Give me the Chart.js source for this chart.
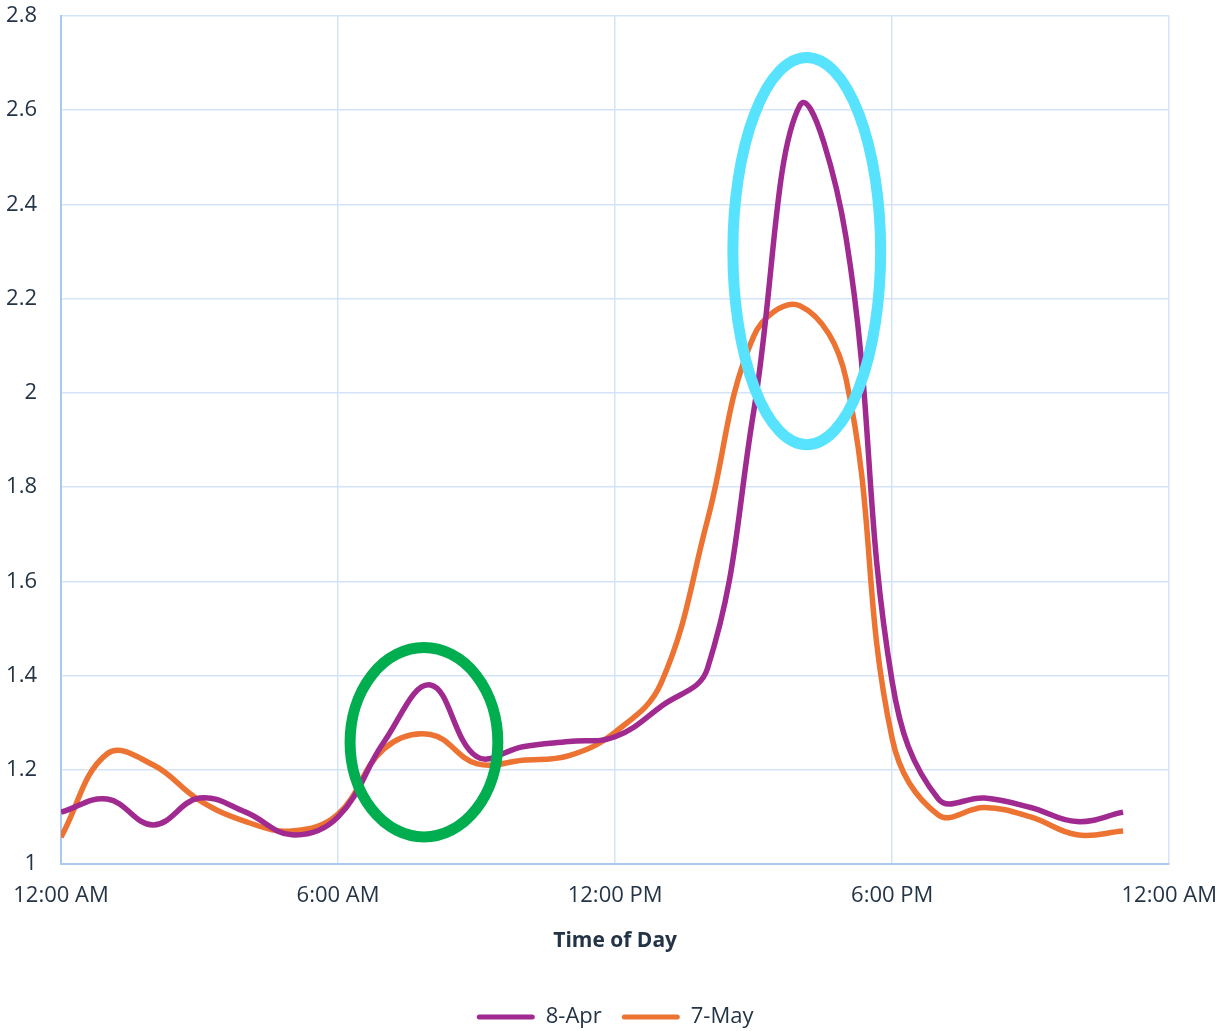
<!DOCTYPE html>
<html>
<head>
<meta charset="utf-8">
<script src="https://cdn.jsdelivr.net/npm/chart.js@4/dist/chart.umd.min.js"></script>
<style>
  html, body { margin: 0; padding: 0; background: #ffffff; }
  #wrap { width: 1217px; height: 1031px; position: relative; }
</style>
</head>
<body>
<div id="wrap"><canvas id="c" width="1217" height="1031"></canvas></div>
<script>
// Hour of day for each reading (0 = midnight)
const hours = [0, 1, 2, 3, 4, 5, 6, 7, 8, 9, 10, 11, 12, 13, 14, 15, 16, 17, 18, 19, 20, 21, 22, 23];

// Readings per hour for each day
const apr8 = [1.11, 1.138, 1.083, 1.14, 1.11, 1.062, 1.10, 1.26, 1.38, 1.228, 1.249, 1.26,
              1.27, 1.335, 1.415, 1.96, 2.61, 2.33, 1.387, 1.138, 1.14, 1.12, 1.09, 1.11];
const may7 = [1.057, 1.234, 1.21, 1.135, 1.09, 1.07, 1.106, 1.245, 1.275, 1.213, 1.22, 1.23,
              1.28, 1.385, 1.73, 2.12, 2.185, 2.03, 1.266, 1.104, 1.12, 1.10, 1.062, 1.07];

const seriesNames = ['8-Apr', '7-May'];

// Axis tick labels
const xTickLabels = ['12:00 AM', '6:00 AM', '12:00 PM', '6:00 PM', '12:00 AM'];
const xTickHours = [0, 6, 12, 18, 24];
const yTicks = [1, 1.2, 1.4, 1.6, 1.8, 2, 2.2, 2.4, 2.6, 2.8];

// Highlight rings: centre hour, centre value, half-width (hours), half-height (value)
const ringHours = [7.86, 16.15];
const ringValues = [1.2585, 2.301];
const ringHalfWidths = [1.6, 1.6];
const ringHalfHeights = [0.201, 0.411];
const ringColors = ['#00ad4f', '#57e2fd'];

const textColor = '#243447';
const fontFamily = '"Open Sans", "DejaVu Sans", sans-serif';

const ringPlugin = {
  id: 'rings',
  afterDatasetsDraw(chart) {
    const { ctx, scales: { x, y } } = chart;
    ctx.save();
    for (let i = 0; i < ringHours.length; i++) {
      const cx = x.getPixelForValue(ringHours[i]);
      const cy = y.getPixelForValue(ringValues[i]);
      const rx = Math.abs(x.getPixelForValue(ringHours[i] + ringHalfWidths[i]) - cx);
      const ry = Math.abs(y.getPixelForValue(ringValues[i] + ringHalfHeights[i]) - cy);
      ctx.beginPath();
      ctx.ellipse(cx, cy, rx, ry, 0, 0, Math.PI * 2);
      ctx.lineWidth = 11;
      ctx.strokeStyle = ringColors[i];
      ctx.stroke();
    }
    ctx.restore();
  }
};

const toPoints = (vals) => hours.map((h, i) => ({ x: h, y: vals[i] }));

new Chart(document.getElementById('c'), {
  type: 'line',
  data: {
    datasets: [
      {
        label: seriesNames[0],
        data: toPoints(apr8),
        borderColor: '#a02a90',
        backgroundColor: '#a02a90',
        borderWidth: 5.5,
        pointRadius: 0,
        tension: 0.4,
        fill: false
      },
      {
        label: seriesNames[1],
        data: toPoints(may7),
        borderColor: '#ec7331',
        backgroundColor: '#ec7331',
        borderWidth: 5.5,
        pointRadius: 0,
        tension: 0.4,
        fill: false
      }
    ]
  },
  options: {
    responsive: false,
    animation: false,
    layout: { padding: { top: 16, right: 47, left: 0, bottom: -7 } },
    plugins: {
      tooltip: { enabled: false },
      legend: {
        position: 'bottom',
        fullSize: false,
        labels: {
          color: textColor,
          font: { family: fontFamily, size: 22 },
          boxWidth: 58,
          boxHeight: 5,
          padding: 20,
          useBorderRadius: true,
          borderRadius: 2.5,
          generateLabels(chart) {
            return chart.data.datasets.map((ds, i) => ({
              text: ds.label,
              fillStyle: ds.borderColor,
              strokeStyle: ds.borderColor,
              lineWidth: 0,
              datasetIndex: i,
              fontColor: textColor,
              borderRadius: 2.5
            }));
          }
        }
      }
    },
    scales: {
      x: {
        type: 'linear',
        min: 0,
        max: 24,
        afterBuildTicks(scale) {
          scale.ticks = xTickHours.map(v => ({ value: v }));
        },
        afterFit(scale) { scale.height = 122; },
        ticks: {
          color: textColor,
          font: { family: fontFamily, size: 22 },
          padding: 0,
          maxRotation: 0,
          autoSkip: false,
          callback(value) {
            const i = xTickHours.indexOf(value);
            return i >= 0 ? xTickLabels[i] : '';
          }
        },
        grid: { color: '#d4e3f5', lineWidth: 1.5, drawTicks: true, tickLength: 19, tickColor: 'rgba(0,0,0,0)' },
        border: { color: '#a9c9ee', width: 2 },
        title: {
          display: true,
          text: 'Time of Day',
          color: textColor,
          font: { family: fontFamily, size: 21, weight: 'bold' },
          padding: { top: 0, bottom: 32 }
        }
      },
      y: {
        min: 1,
        max: 2.8,
        afterBuildTicks(scale) {
          scale.ticks = yTicks.map(v => ({ value: v }));
        },
        afterFit(scale) { scale.width = 61; },
        ticks: {
          color: textColor,
          font: { family: fontFamily, size: 22 },
          padding: 0,
          callback(value) { return String(Math.round(value * 10) / 10); }
        },
        grid: { color: '#d4e3f5', lineWidth: 1.5, drawTicks: true, tickLength: 24, tickColor: 'rgba(0,0,0,0)' },
        border: { color: '#a9c9ee', width: 2 }
      }
    }
  },
  plugins: [ringPlugin]
});
</script>
</body>
</html>
